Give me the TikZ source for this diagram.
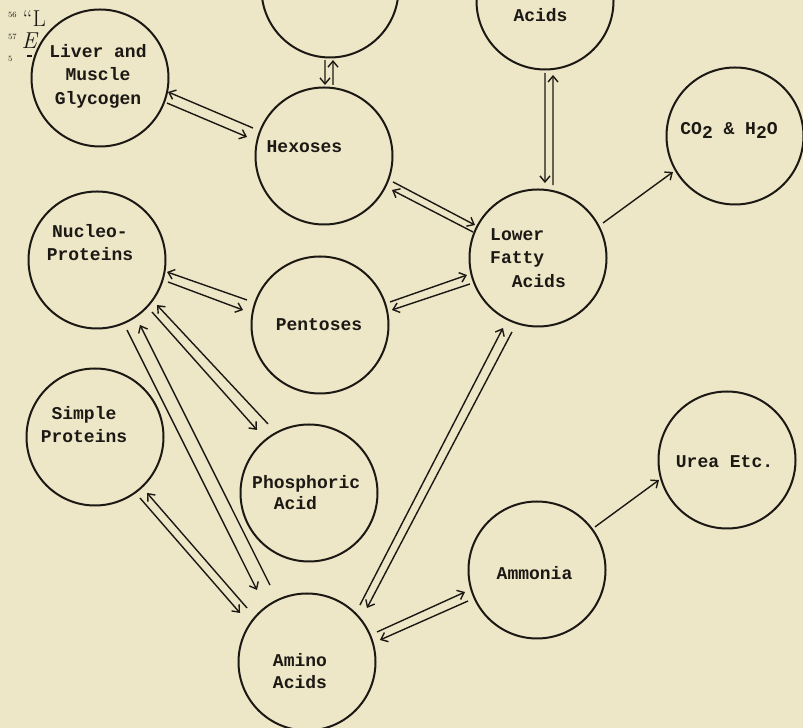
\documentclass[tikz,border=0pt]{standalone}
\usepackage{fontspec}
\newfontfamily\tw{Liberation Mono}
\usetikzlibrary{arrows.meta}
\definecolor{paper}{RGB}{237,231,200}
\definecolor{ink}{RGB}{28,24,20}
\begin{document}
\begin{tikzpicture}[x=1pt,y=1pt,
  bub/.style={circle, draw=ink, line width=2pt, minimum size=137pt, inner sep=0pt},
  lbl/.style={font=\tw\bfseries\fontsize{18}{23.5}\selectfont, text=ink, inner sep=0pt},
  frag/.style={text=ink, inner sep=0pt, anchor=north west, align=left, font=\fontsize{23}{22}\selectfont},
  arr/.style={draw=ink, line width=1.4pt, -{Straight Barb[length=6pt,width=10pt]}},
  ]
\fill[paper] (0,0) rectangle (803,728);
\useasboundingbox (0,0) rectangle (803,728);

% circles
\node[bub] (L)  at (100,650) {};
\node[bub] (T)  at (330,739) {};
\node[bub] (A)  at (545,727) {};
\node[bub] (H)  at (324,572) {};
\node[bub] (F)  at (538,470) {};
\node[bub] (C)  at (735,592) {};
\node[bub] (N)  at (97,468) {};
\node[bub] (P)  at (320,403) {};
\node[bub] (S)  at (95,291) {};
\node[bub] (Ph) at (309,235) {};
\node[bub] (M)  at (537,158) {};
\node[bub] (U)  at (727,268) {};
\node[bub] (AA) at (307,66) {};

% labels
\node[lbl, align=center] (tL) at (98,652) {Liver and\\Muscle\\Glycogen};
\node[lbl] (tH) at (304.5,581) {Hexoses};
\node[lbl] (tA) at (540.5,713) {Acids};
\node[lbl, align=left, anchor=west] (tF) at (490,470) {Lower\\Fatty\\\hspace*{21.6pt}Acids};
\node[lbl] (tC) at (729,598) {CO\raisebox{-4pt}{2} \& H\raisebox{-4pt}{2}O};
\node[lbl, align=center] (tN) at (90,485.5) {Nucleo-\\Proteins};
\node[lbl] (tP) at (319,403) {Pentoses};
\node[lbl, align=center] (tS) at (84,303.5) {Simple\\Proteins};
\node[lbl, align=left, anchor=west, font=\tw\bfseries\fontsize{18}{21}\selectfont] (tPh) at (252,235.5) {Phosphoric\\\hspace*{21.6pt}Acid};
\node[lbl] (tM) at (534.5,155) {Ammonia};
\node[lbl] (tU) at (724.5,266) {Urea Etc.};
\node[lbl, align=center, font=\tw\bfseries\fontsize{18}{22}\selectfont] (tAA) at (300,57) {Amino\\Acids};

% stray text fragments at top left (one block)
\node[frag] (frags) at (8,718) {\raisebox{9pt}{\fontsize{8}{8}\selectfont 56}\hspace{6pt}``L\\
\raisebox{9pt}{\fontsize{8}{8}\selectfont 57}\hspace{5pt}\textit{E}\\[-9pt]
{\fontsize{8}{8}\selectfont 5}};
\coordinate (dashA) at (27,672);
\coordinate (dashB) at (32,672);
\draw[ink, line width=1.2pt] (dashA) -- (dashB);

% Liver <-> Hexoses
\draw[arr] ([shift={(158.5:76.3)}]H.center) -- ([shift={(-11.6:69.4)}]L.center);
\draw[arr] ([shift={(-20.5:71.5)}]L.center) -- ([shift={(166.1:79.3)}]H.center);
% top circle <-> Hexoses
\draw[arr] ([shift={(-94:71.2)}]T.center) -- ([shift={(89.2:71)}]H.center);
\draw[arr] ([shift={(82.8:71.6)}]H.center) -- ([shift={(-87.6:71.1)}]T.center);
% Acids <-> Lower Fatty Acids
\draw[arr] ([shift={(-90:72)}]A.center) -- ([shift={(84.7:75.3)}]F.center);
\draw[arr] ([shift={(78.4:74.5)}]F.center) -- ([shift={(-83.8:74.4)}]A.center);
% Hexoses <-> Lower Fatty Acids
\draw[arr] ([shift={(-20.6:73.7)}]H.center) -- ([shift={(152.4:71.1)}]F.center);
\draw[arr] ([shift={(158.2:70)}]F.center) -- ([shift={(-26.6:76)}]H.center);
% Pentoses <-> Lower Fatty Acids
\draw[arr] ([shift={(18.2:73.7)}]P.center) -- ([shift={(-166.5:73)}]F.center);
\draw[arr] ([shift={(-159.1:72.8)}]F.center) -- ([shift={(11.8:73.5)}]P.center);
% Nucleo <-> Pentoses
\draw[arr] ([shift={(161.1:77.2)}]P.center) -- ([shift={(-9.7:71)}]N.center);
\draw[arr] ([shift={(-17.2:74.3)}]N.center) -- ([shift={(169:78.4)}]P.center);
% Nucleo <-> Phosphoric
\draw[arr] ([shift={(120.7:80.3)}]Ph.center) -- ([shift={(-36.9:75)}]N.center);
\draw[arr] ([shift={(-43.4:75.7)}]N.center) -- ([shift={(129.5:81.7)}]Ph.center);
% Nucleo <-> Amino
\draw[arr] ([shift={(-66.8:76.2)}]N.center) -- ([shift={(124.8:87.7)}]AA.center);
\draw[arr] ([shift={(115.7:85.4)}]AA.center) -- ([shift={(-56.5:77.9)}]N.center);
% Simple <-> Amino
\draw[arr] ([shift={(138:80.7)}]AA.center) -- ([shift={(-47.1:76.4)}]S.center);
\draw[arr] ([shift={(-53.6:75.8)}]S.center) -- ([shift={(143.8:83)}]AA.center);
% Lower Fatty <-> Amino
\draw[arr] ([shift={(47.1:77.8)}]AA.center) -- ([shift={(-116.6:78.3)}]F.center);
\draw[arr] ([shift={(-109.4:78.4)}]F.center) -- ([shift={(42:80.7)}]AA.center);
% Amino <-> Ammonia
\draw[arr] ([shift={(23.2:76.2)}]AA.center) -- ([shift={(-163:75.3)}]M.center);
\draw[arr] ([shift={(-155.8:75.6)}]M.center) -- ([shift={(16.8:76.2)}]AA.center);
% single arrows
\draw[arr] ([shift={(28.3:73.8)}]F.center) -- ([shift={(-149.9:71.7)}]C.center);
\draw[arr] ([shift={(36.6:72.2)}]M.center) -- ([shift={(-163.6:70.9)}]U.center);
\end{tikzpicture}
\end{document}
